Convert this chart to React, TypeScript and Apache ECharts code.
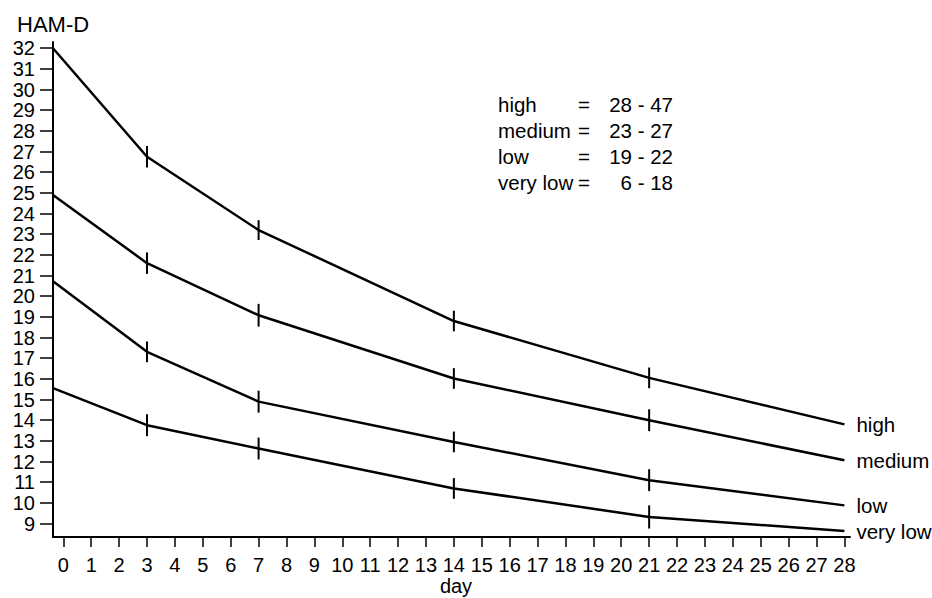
import React, { useEffect, useRef } from "react";
import * as echarts from "echarts";

// ---- data ----
const days = [0, 3, 7, 14, 21, 28];
const seriesNames = ["high", "medium", "low", "very low"];
const highValues = [32.0, 26.75, 23.2, 18.8, 16.05, 13.8];
const mediumValues = [24.9, 21.6, 19.08, 16.02, 14.0, 12.06];
const lowValues = [20.73, 17.31, 14.9, 12.95, 11.1, 9.88];
const veryLowValues = [15.55, 13.76, 12.63, 10.7, 9.32, 8.64];
// error-bar half widths at days 3, 7, 14, 21
const errorDays = [3, 7, 14, 21];
const highErr = [0.52, 0.48, 0.5, 0.5];
const mediumErr = [0.52, 0.55, 0.5, 0.53];
const lowErr = [0.5, 0.53, 0.5, 0.53];
const veryLowErr = [0.53, 0.53, 0.5, 0.56];
const rangeLabels = ["28 - 47", "23 - 27", "19 - 22", "6 - 18"];
const xTickValues = Array.from({ length: 29 }, (_, i) => i);
const yTickValues = Array.from({ length: 24 }, (_, i) => 9 + i);

const X_MIN = -0.37;
const X_MAX = 28.2;
const Y_MIN = 8.35;
const Y_MAX = 32.3;

const FONT = "Liberation Sans, Arial, sans-serif";

export default function App() {
  const ref = useRef<HTMLDivElement>(null);

  useEffect(() => {
    if (!ref.current) return;
    const chart = echarts.init(ref.current, null, { renderer: "svg" });
    const allValues = [highValues, mediumValues, lowValues, veryLowValues];
    const allErr = [highErr, mediumErr, lowErr, veryLowErr];

    const lineSeries = allValues.map((vals, si) => ({
      type: "line",
      name: seriesNames[si],
      // the day-0 reading is drawn from the vertical axis
      data: days.map((d, i) => [d === 0 ? X_MIN : d, vals[i]]),
      symbol: "none",
      lineStyle: { color: "#000", width: 2.5 },
      endLabel: {
        show: true,
        formatter: seriesNames[si],
        distance: 12,
        color: "#000",
        fontFamily: FONT,
        fontSize: 20.5,
      },
      z: 3,
    }));

    const errSeries = allValues.map((vals, si) => ({
      type: "custom",
      name: seriesNames[si] + " err",
      data: errorDays.map((d, i) => {
        const v = vals[days.indexOf(d)];
        return [d, v - allErr[si][i], v + allErr[si][i]];
      }),
      renderItem: (params: any, api: any) => {
        const p1 = api.coord([api.value(0), api.value(1)]);
        const p2 = api.coord([api.value(0), api.value(2)]);
        return {
          type: "line",
          shape: { x1: p1[0], y1: p1[1], x2: p2[0], y2: p2[1] },
          style: { stroke: "#000", lineWidth: 2 },
        };
      },
      z: 4,
    }));

    const graphics: any[] = [];
    seriesNames.forEach((n, i) => {
      const y = 104 + i * 26.3;
      graphics.push(
        { type: "text", x: 498, y, style: { text: n, fontFamily: FONT, fontSize: 20.5, fill: "#000", align: "left", verticalAlign: "middle" } },
        { type: "text", x: 584, y, style: { text: "=", fontFamily: FONT, fontSize: 20.5, fill: "#000", align: "center", verticalAlign: "middle" } },
        { type: "text", x: 673, y, style: { text: rangeLabels[i], fontFamily: FONT, fontSize: 20.5, fill: "#000", align: "right", verticalAlign: "middle" } }
      );
    });
    // x-axis title
    graphics.push({
      type: "text",
      x: 456,
      y: 586,
      style: { text: "day", fontFamily: FONT, fontSize: 20, fill: "#000", align: "center", verticalAlign: "middle" },
    });

    const axisText = { color: "#000", fontFamily: FONT, fontSize: 20 };

    chart.setOption({
      animation: false,
      backgroundColor: "#fff",
      title: {
        text: "HAM-D",
        left: 12,
        top: 8,
        textStyle: { color: "#000", fontFamily: FONT, fontSize: 22, fontWeight: "normal" },
      },
      grid: { left: 53, right: 82, top: 42, bottom: 61, outerBoundsMode: "none", containLabel: false },
      xAxis: {
        type: "value",
        min: X_MIN,
        max: X_MAX,
        axisLine: { onZero: false, lineStyle: { color: "#000", width: 2 } },
        axisTick: { customValues: xTickValues, length: 10, lineStyle: { color: "#000", width: 1.5 } },
        axisLabel: { customValues: xTickValues, margin: 18, hideOverlap: false, showMinLabel: true, showMaxLabel: true, ...axisText },
        splitLine: { show: false },
      },
      yAxis: {
        type: "value",
        min: Y_MIN,
        max: Y_MAX,
        axisLine: { show: true, onZero: false, lineStyle: { color: "#000", width: 2 } },
        axisTick: { show: true, customValues: yTickValues, length: 13, lineStyle: { color: "#000", width: 1.5 } },
        axisLabel: {
          customValues: yTickValues,
          margin: 18,
          hideOverlap: false,
          showMinLabel: true,
          showMaxLabel: true,
          ...axisText,
          fontSize: 20,
          lineHeight: 20,
        },
        splitLine: { show: false },
      },
      graphic: graphics,
      series: [...lineSeries, ...errSeries],
    });
    return () => chart.dispose();
  }, []);

  return (
    <div
      ref={ref}
      style={{ position: "fixed", left: 0, top: 0, width: 932, height: 598, background: "#fff" }}
    />
  );
}
